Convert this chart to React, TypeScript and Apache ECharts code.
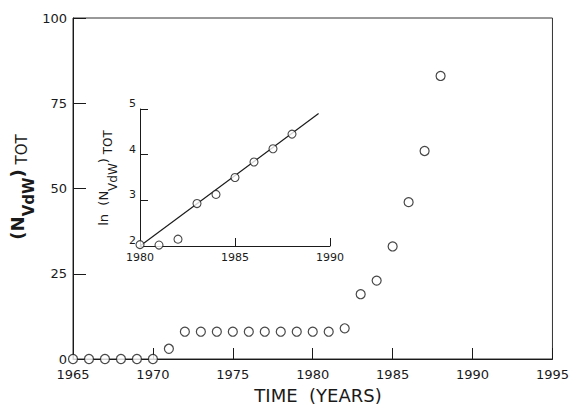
import React, { useEffect, useRef } from "react";
import * as echarts from "echarts";

// Main panel data
const mainYears = [1965, 1966, 1967, 1968, 1969, 1970, 1971, 1972, 1973, 1974, 1975, 1976, 1977, 1978, 1979, 1980, 1981, 1982, 1983, 1984, 1985, 1986, 1987, 1988];
const mainValues = [0, 0, 0, 0, 0, 0, 3, 8, 8, 8, 8, 8, 8, 8, 8, 8, 8, 9, 19, 23, 33, 46, 61, 83];

// Inset data (ln of total)
const insetYears = [1980, 1981, 1982, 1983, 1984, 1985, 1986, 1987, 1988];
const insetLnValues = [2.03, 2.02, 2.15, 2.93, 3.13, 3.5, 3.84, 4.13, 4.45];

// Fitted line in inset
const fitYears = [1980, 1989.4];
const fitLnValues = [2, 4.9];

const FONT = "DejaVu Sans";
const INK = "#1a1a1a";
const plain = (v: number) => String(v);

export default function App() {
  const ref = useRef<HTMLDivElement>(null);
  useEffect(() => {
    if (!ref.current) return;
    const chart = echarts.init(ref.current, undefined, { renderer: "svg" });
    const labelStyle = { fontFamily: FONT, color: INK, fontSize: 13, formatter: plain };
    const insetLabel = { fontFamily: FONT, color: INK, fontSize: 11, formatter: plain };
    chart.setOption({
      animation: false,
      backgroundColor: "#ffffff",
      grid: [
        { left: 73, right: 19, top: 18, bottom: 46, show: true, borderColor: "#333", borderWidth: 1 },
        { left: 140, right: 242, top: 109, bottom: 159 },
      ],
      xAxis: [
        {
          type: "value", gridIndex: 0, min: 1965, max: 1995, interval: 5,
          axisLine: { show: true, lineStyle: { color: INK, width: 1 } },
          axisTick: { show: true, inside: true, length: 11, lineStyle: { color: INK } },
          axisLabel: { ...labelStyle, margin: 9 },
          splitLine: { show: false },
        },
        {
          type: "value", gridIndex: 1, min: 1980, max: 1990, interval: 5,
          axisLine: { show: true, lineStyle: { color: INK, width: 1 } },
          axisTick: { show: true, inside: true, length: 8, lineStyle: { color: INK } },
          axisLabel: { ...insetLabel, margin: 6 },
          splitLine: { show: false },
        },
      ],
      yAxis: [
        {
          type: "value", gridIndex: 0, min: 0, max: 100, interval: 25,
          axisLine: { show: true, lineStyle: { color: INK, width: 1 } },
          axisTick: { show: true, inside: true, length: 13, lineStyle: { color: INK } },
          axisLabel: { ...labelStyle, margin: 6 },
          splitLine: { show: false },
        },
        {
          type: "value", gridIndex: 1, min: 2, max: 5, interval: 1,
          axisLine: { show: true, lineStyle: { color: INK, width: 1 } },
          axisTick: { show: true, inside: true, length: 8, lineStyle: { color: INK } },
          axisLabel: { ...insetLabel, margin: 4, verticalAlign: "bottom" },
          splitLine: { show: false },
        },
      ],
      series: [
        {
          type: "scatter", xAxisIndex: 0, yAxisIndex: 0,
          data: mainYears.map((y, i) => [y, mainValues[i]]),
          symbol: "circle", symbolSize: 9, clip: false,
          itemStyle: { color: "#ffffff", borderColor: INK, borderWidth: 1.2 },
          z: 5,
        },
        {
          type: "line", xAxisIndex: 1, yAxisIndex: 1,
          data: fitYears.map((y, i) => [y, fitLnValues[i]]),
          symbol: "none", lineStyle: { color: INK, width: 1.2 },
        },
        {
          type: "scatter", xAxisIndex: 1, yAxisIndex: 1,
          data: insetYears.map((y, i) => [y, insetLnValues[i]]),
          symbol: "circle", symbolSize: 8, clip: false,
          itemStyle: { color: "#ffffff", borderColor: INK, borderWidth: 1.1 },
          z: 5,
        },
      ],
      graphic: [
        {
          type: "text", x: 318, y: 395,
          style: {
            text: "TIME  (YEARS)", fontFamily: FONT, fontSize: 18, fill: INK,
            align: "center", verticalAlign: "middle",
          },
        },
        {
          type: "text", x: 22, y: 187, rotation: Math.PI / 2,
          style: {
            text: "{n|(N}{s|VdW}{n|)}{t| TOT}",
            fill: INK, align: "center", verticalAlign: "middle",
            rich: {
              n: { fontFamily: FONT, fontSize: 18, fontWeight: "bold", fill: INK, lineHeight: 28, verticalAlign: "top" },
              s: { fontFamily: FONT, fontSize: 15, fontWeight: "bold", fill: INK, lineHeight: 28, verticalAlign: "bottom" },
              t: { fontFamily: FONT, fontSize: 15, fill: INK, lineHeight: 28, verticalAlign: "middle" },
            },
          },
        },
        {
          type: "text", x: 108, y: 178, rotation: Math.PI / 2,
          style: {
            text: "{n|ln  (N}{s|VdW}{n|)}{t| TOT}",
            fill: INK, align: "center", verticalAlign: "middle",
            rich: {
              n: { fontFamily: FONT, fontSize: 13, fill: INK, lineHeight: 22, verticalAlign: "top" },
              s: { fontFamily: FONT, fontSize: 12, fill: INK, lineHeight: 22, verticalAlign: "bottom" },
              t: { fontFamily: FONT, fontSize: 12, fill: INK, lineHeight: 22, verticalAlign: "middle" },
            },
          },
        },
      ],
    });
    return () => chart.dispose();
  }, []);
  return <div ref={ref} style={{ position: "fixed", left: 0, top: 0, width: 572, height: 405 }} />;
}
